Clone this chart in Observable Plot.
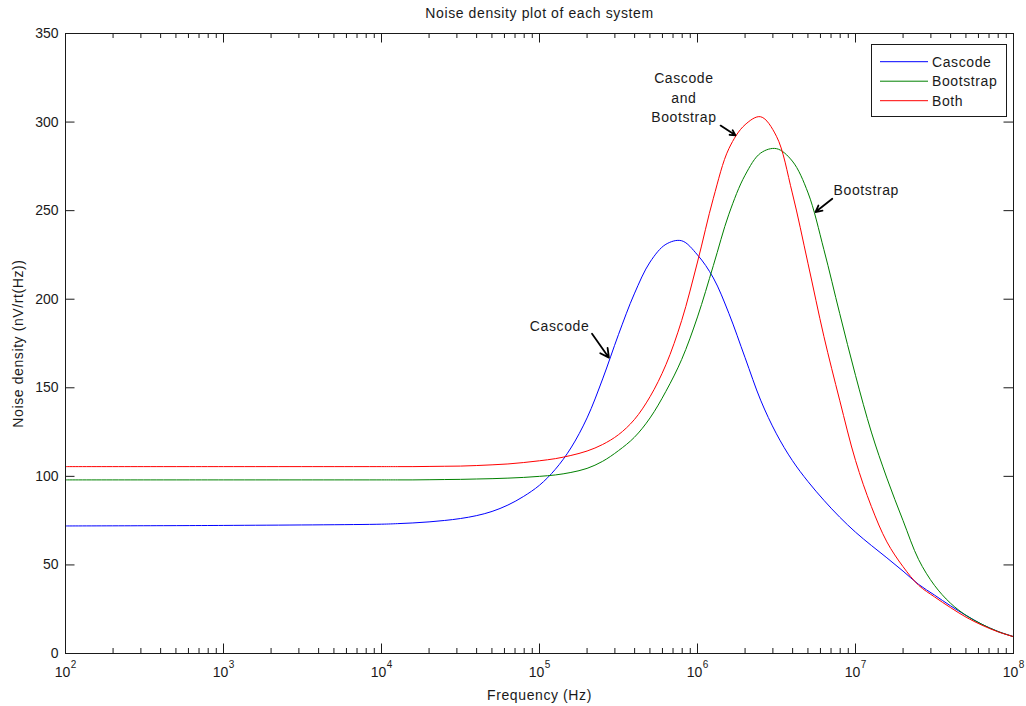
<!DOCTYPE html>
<html>
<head>
<meta charset="utf-8">
<script src="https://cdn.jsdelivr.net/npm/d3@7"></script>
<script src="https://cdn.jsdelivr.net/npm/@observablehq/plot@0.6"></script>
<style>
  html, body { margin: 0; padding: 0; background: #fff; }
</style>
</head>
<body>
<div id="chart"></div>
<script>
// ---- data ----
const freq = [1e2, 1e3,
  1e4, 1.26e4, 1.58e4, 2e4, 2.51e4, 3.16e4, 3.98e4, 5.01e4, 6.31e4, 7.94e4,
  1e5, 1.26e5, 1.58e5, 2e5, 2.51e5, 3.16e5, 3.98e5, 5.01e5, 6.31e5, 7.94e5,
  1e6, 1.26e6, 1.58e6, 2e6, 2.51e6, 3.16e6, 3.98e6, 5.01e6, 6.31e6, 7.94e6,
  1e7, 1.26e7, 1.58e7, 2e7, 2.51e7, 3.16e7, 3.98e7, 5.01e7, 6.31e7, 7.94e7,
  1e8];
const cascode = [72, 72.3,
  73, 73.3, 73.7, 74.3, 75.1, 76.2, 77.8, 80.2, 83.8, 88.7,
  95, 104, 116, 133, 155, 180, 203, 221, 231, 233,
  225, 212, 192, 167, 143, 124, 109, 97, 86.5, 77,
  68.5, 61, 54, 46.5, 39, 33, 27, 21.5, 16.5, 12.5,
  9.5];
const bootstrap = [98, 98,
  98, 98, 98, 98.1, 98.2, 98.3, 98.5, 98.7, 99, 99.4,
  100, 100.8, 102.2, 104.5, 108.5, 114.5, 122, 133, 148, 166,
  190, 219, 248, 270, 282.5, 285, 278, 260, 228, 192,
  157, 125, 99, 75, 53, 38.5, 28.5, 21.5, 16.5, 12.5,
  9.5];
const both = [105.5, 105.5,
  105.5, 105.5, 105.5, 105.6, 105.7, 105.8, 106.1, 106.5, 107, 107.8,
  108.8, 110, 111.8, 114.3, 118, 123.5, 132, 145, 163, 188,
  221, 257, 285, 298.5, 303, 292, 260, 220, 179, 143,
  109, 83, 63, 49, 38.5, 32, 26, 20.5, 16, 12.3,
  9.5];

const seriesNames = ["Cascode", "Bootstrap", "Both"];
const seriesColors = ["#0000ff", "#008000", "#ff0000"];
const xMajor = [1e2, 1e3, 1e4, 1e5, 1e6, 1e7, 1e8];
const yTicks = [0, 50, 100, 150, 200, 250, 300, 350];

const titleText = "Noise density plot of each system";
const xLabel = "Frequency (Hz)";
const yLabel = "Noise density (nV/rt(Hz))";

// annotations: label position and arrow (in data units)
const annoText = [
  {f: 1.34e5, v: 185.8, text: "Cascode"},
  {f: 8.2e5, v: 314.5, text: "Cascode\nand\nBootstrap"},
  {f: 1.17e7, v: 262.4, text: "Bootstrap"}
];
const annoArrows = [
  {f1: 2.15e5, v1: 180.5, f2: 2.75e5, v2: 167},
  {f1: 1.40e6, v1: 298, f2: 1.74e6, v2: 292.5},
  {f1: 7.13e6, v1: 256.7, f2: 5.58e6, v2: 249.2}
];

// ---- build table ----
const table = [];
[cascode, bootstrap, both].forEach((vals, i) => {
  vals.forEach((v, j) => table.push({series: seriesNames[i], f: freq[j], v}));
});

const xMinor = [];
for (let k = 0; k < xMajor.length - 1; k++) {
  for (let m = 2; m <= 9; m++) xMinor.push(m * xMajor[k]);
}

const W = 1026, H = 706, mL = 65, mT = 33, mR = 13, mB = 53;
const innerW = W - mL - mR, innerH = H - mT - mB;
const majorLen = 9.5, minorLen = 5;
const font = "Liberation Sans, Arial, Helvetica, sans-serif";
const ink = "#1a1a1a";

const svg = Plot.plot({
  width: W, height: H,
  marginLeft: mL, marginTop: mT, marginRight: mR, marginBottom: mB,
  x: {type: "log", domain: [1e2, 1e8], axis: null},
  y: {domain: [0, 350], axis: null},
  color: {domain: seriesNames, range: seriesColors},
  style: {fontFamily: font, fontSize: "14px", background: "#fff", overflow: "visible", color: ink},
  marks: [
    Plot.line(table, {x: "f", y: "v", stroke: "series", z: "series", curve: "catmull-rom", strokeWidth: 1}),
    // ticks (inward, all four sides)
    Plot.ruleX(xMajor, {x: d => d, insetTop: innerH - majorLen, stroke: ink}),
    Plot.ruleX(xMajor, {x: d => d, insetBottom: innerH - majorLen, stroke: ink}),
    Plot.ruleX(xMinor, {x: d => d, insetTop: innerH - minorLen, stroke: ink}),
    Plot.ruleX(xMinor, {x: d => d, insetBottom: innerH - minorLen, stroke: ink}),
    Plot.ruleY(yTicks, {y: d => d, insetRight: innerW - majorLen, stroke: ink}),
    Plot.ruleY(yTicks, {y: d => d, insetLeft: innerW - majorLen, stroke: ink}),
    Plot.frame({stroke: ink}),
    // tick labels
    Plot.text(yTicks, {y: d => d, frameAnchor: "left", dx: -7, textAnchor: "end", lineAnchor: "middle", text: d => String(d), fill: ink}),
    Plot.text(xMajor, {x: d => d, frameAnchor: "bottom", dy: 19, dx: -3, lineAnchor: "middle", text: () => "10", fill: ink}),
    Plot.text(xMajor, {x: d => d, frameAnchor: "bottom", dy: 11, dx: 8, lineAnchor: "middle", text: d => String(Math.round(Math.log10(d))), fontSize: 10, fill: ink}),
    // axis labels and title
    Plot.text([xLabel], {frameAnchor: "bottom", dy: 42, lineAnchor: "middle", text: d => d, fill: ink}),
    Plot.text([yLabel], {frameAnchor: "left", dx: -47, rotate: -90, textAnchor: "middle", lineAnchor: "middle", text: d => d, fill: ink}),
    Plot.text([titleText], {frameAnchor: "top", dy: -20, lineAnchor: "middle", text: d => d, fill: ink}),
    // annotations
    Plot.text(annoText, {x: "f", y: "v", text: "text", lineHeight: 1.38, lineAnchor: "middle", fill: ink}),
    Plot.arrow(annoArrows, {x1: "f1", y1: "v1", x2: "f2", y2: "v2", stroke: "black", strokeWidth: 1.8, headLength: 11, headAngle: 55})
  ]
});

// legend box (top-right inside the axes)
const sel = d3.select(svg);
const lg = sel.append("g").attr("font-family", font).attr("font-size", 14).attr("text-anchor", "start");
lg.append("rect").attr("x", 871.5).attr("y", 44.5).attr("width", 135).attr("height", 72)
  .attr("fill", "#fff").attr("stroke", ink);
seriesNames.forEach((name, i) => {
  const y = 61.7 + i * 19.5;
  lg.append("line").attr("x1", 880).attr("x2", 928).attr("y1", y).attr("y2", y)
    .attr("stroke", seriesColors[i]).attr("stroke-width", 1);
  lg.append("text").attr("x", 932).attr("y", y).attr("dy", "0.35em").attr("fill", ink).text(name);
});

// wider letter spacing for word labels (reference font renders wide)
sel.selectAll("text").each(function() {
  const t = this.textContent || "";
  if (/[A-Za-z]/.test(t) && t !== "10") d3.select(this).style("letter-spacing", "0.6px");
});

document.getElementById("chart").appendChild(svg);
</script>
</body>
</html>
